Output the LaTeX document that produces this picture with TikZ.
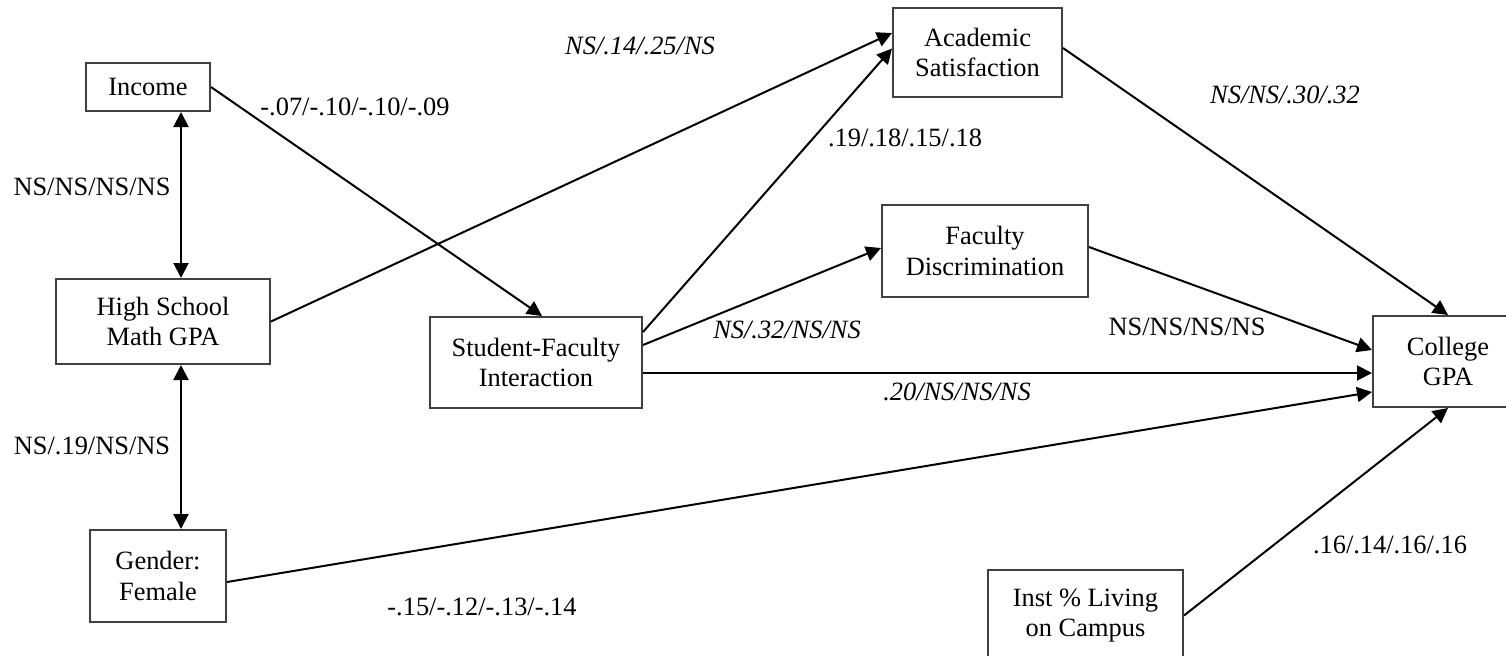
\documentclass[tikz,border=0pt]{standalone}
\usepackage{fontspec}
\setmainfont{Liberation Serif}
\usetikzlibrary{arrows.meta,calc}
\definecolor{ink}{HTML}{000000}
\definecolor{frame}{HTML}{404040}
\tikzset{
  varbox/.style={draw=frame,line width=1pt,fill=white,align=center,inner sep=0pt,
    font=\fontsize{13.2}{15.2}\selectfont,text=ink},
  path/.style={-{Triangle[length=7.5pt,width=7.5pt]},line width=1pt,draw=ink},
  corr/.style={{Triangle[length=7.5pt,width=7.5pt]}-{Triangle[length=7.5pt,width=7.5pt]},line width=1pt,draw=ink},
  coef/.style={font=\fontsize{13.2}{15.2}\selectfont,text=ink,inner sep=0pt},
  coefit/.style={coef,font=\fontsize{13.2}{15.2}\selectfont\itshape}
}
\begin{document}
\begin{tikzpicture}[x=0.5pt,y=-0.5pt]
  \useasboundingbox (0,0) rectangle (1506,655);
  \clip (0,0) rectangle (1506,655);

  % variables
  \node[varbox,minimum width=62pt,minimum height=24pt] (income) at (148,87) {Income};
  \node[varbox,minimum width=107pt,minimum height=42.5pt] (hsgpa) at (163,321.5) {High School\\Math GPA};
  \node[varbox,minimum width=68pt,minimum height=46pt] (gender) at (158,576) {Gender:\\Female};
  \node[varbox,minimum width=106pt,minimum height=45.5pt] (sfi) at (536,362.5) {Student-Faculty\\Interaction};
  \node[varbox,minimum width=84.5pt,minimum height=44.5pt] (acsat) at (977.5,52.5) {Academic\\Satisfaction};
  \node[varbox,minimum width=103pt,minimum height=46pt] (facdis) at (985,251) {Faculty\\Discrimination};
  \node[varbox,minimum width=75pt,minimum height=45.5pt] (college) at (1448,361.5) {College\\GPA};
  \node[varbox,minimum width=97.5pt,minimum height=45.5pt] (inst) at (1085.5,615.5) {Inst \% Living\\on Campus};

  % correlations
  \coordinate (colx) at (181,0);
  \draw[corr] (income.south -| colx) -- (hsgpa.north -| colx);
  \draw[corr] (hsgpa.south -| colx) -- (gender.north -| colx);

  % paths
  \draw[path] (income.east) -- ([xshift=3pt]sfi.north);
  \draw[path] (hsgpa.east) -- ([yshift=9.75pt]acsat.west);
  \draw[path] ([yshift=15.25pt]sfi.east) -- ([yshift=2pt]acsat.west);
  \draw[path] ([yshift=8.75pt]sfi.east) -- ([yshift=1.5pt]facdis.west);
  \draw[path] ([yshift=-5.25pt]sfi.east) -- ([yshift=-5.25pt]sfi.east -| college.west);
  \draw[path] ([yshift=-3pt]gender.east) -- ([yshift=-15.25pt]college.west);
  \draw[path] ([yshift=2.25pt]acsat.east) -- (college.north);
  \draw[path] ([yshift=2pt]facdis.east) -- ([yshift=5.75pt]college.west);
  \draw[path] (inst.east) -- (college.south);

  % coefficients
  \node[coef] (c-inc-hs) at (92,187) {NS/NS/NS/NS};
  \node[coef] (c-hs-gen) at (92,446) {NS/.19/NS/NS};
  \node[coef] (c-inc-sfi) at (355,107) {-.07/-.10/-.10/-.09};
  \node[coefit] (c-hs-as) at (640,46) {NS/.14/.25/NS};
  \node[coef] (c-sfi-as) at (905,138) {.19/.18/.15/.18};
  \node[coefit] (c-sfi-fd) at (787,330) {NS/.32/NS/NS};
  \node[coefit] (c-sfi-col) at (957,392) {.20/NS/NS/NS};
  \node[coef] (c-gen-col) at (482,607) {-.15/-.12/-.13/-.14};
  \node[coefit] (c-as-col) at (1285,95) {NS/NS/.30/.32};
  \node[coef] (c-fd-col) at (1187,327) {NS/NS/NS/NS};
  \node[coef] (c-inst-col) at (1390,545) {.16/.14/.16/.16};
\end{tikzpicture}
\end{document}
